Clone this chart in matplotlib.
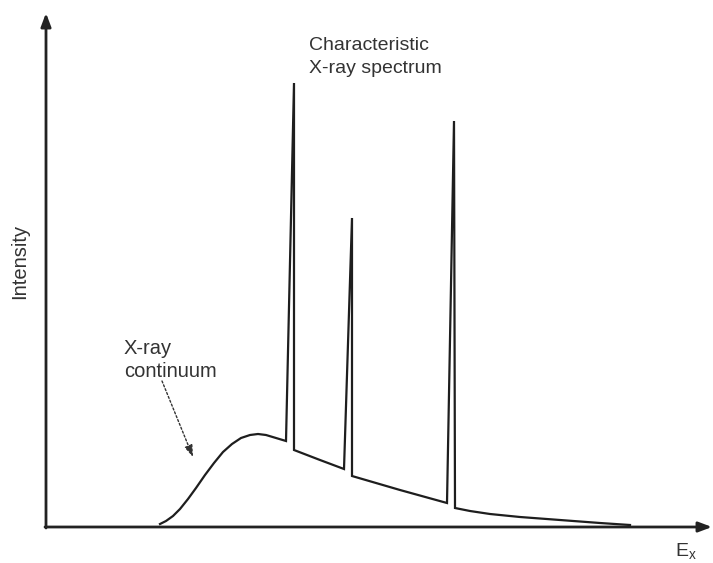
import matplotlib.pyplot as plt

plt.rcParams.update({
    "font.family": ["Liberation Sans", "DejaVu Sans"],
})

# continuum + line spectrum, arbitrary units (energy, intensity)
energy = [114, 120, 127, 134, 142, 150, 159, 168, 177, 186, 195, 204, 212, 220, 230, 240,
          248,
          248, 274, 298,
          306,
          306, 354, 401,
          408,
          409, 424, 444, 474, 514, 554, 584]
intensity = [3, 6, 11, 18, 28, 39, 52, 64, 75, 83, 89, 92, 93, 92, 89, 86,
             444,
             77, 67, 58,
             309,
             51, 37, 24,
             406,
             19, 16, 13, 10, 7, 4, 2]

cont_label = "X-ray\ncontinuum"
char_label = "Characteristic\nX-ray spectrum"
xlabel = "E$_\\mathregular{x}$"
ylabel = "Intensity"

fig = plt.figure(figsize=(7.13, 5.63), dpi=100)
ax = fig.add_axes([0, 0, 1, 1])
ax.set_xlim(-46, 667)
ax.set_ylim(-36, 527)
ax.axis("off")

ax.plot(energy, intensity, color="#1e1e1e", lw=1.6, solid_joinstyle="miter")

# axes with arrowheads
arrow = dict(arrowstyle="-|>,head_length=0.8,head_width=0.3", color="#222222", lw=2,
             shrinkA=0, shrinkB=0)
ax.annotate("", xy=(666, 0), xytext=(-1, 0), arrowprops=arrow)
ax.annotate("", xy=(0, 514), xytext=(0, -1), arrowprops=arrow)

ax.text(-26, 266, ylabel, rotation=90, ha="center", va="center", fontsize=14.5, color="#333333")
ax.text(629, -25, xlabel, ha="left", va="center", fontsize=14, color="#333333")

ax.text(263, 470, char_label, ha="left", va="center", fontsize=14,
        color="#333333", linespacing=1.45)
ax.text(78, 167, cont_label, ha="left", va="center", fontsize=14.5,
        color="#333333", linespacing=1.3)
ax.annotate("", xy=(147, 70), xytext=(116, 146),
            arrowprops=dict(arrowstyle="-|>,head_length=0.7,head_width=0.25",
                            color="#333333", lw=1, linestyle=(0, (1.5, 1.5)),
                            shrinkA=0, shrinkB=0))

plt.savefig("out.png", dpi=100)
